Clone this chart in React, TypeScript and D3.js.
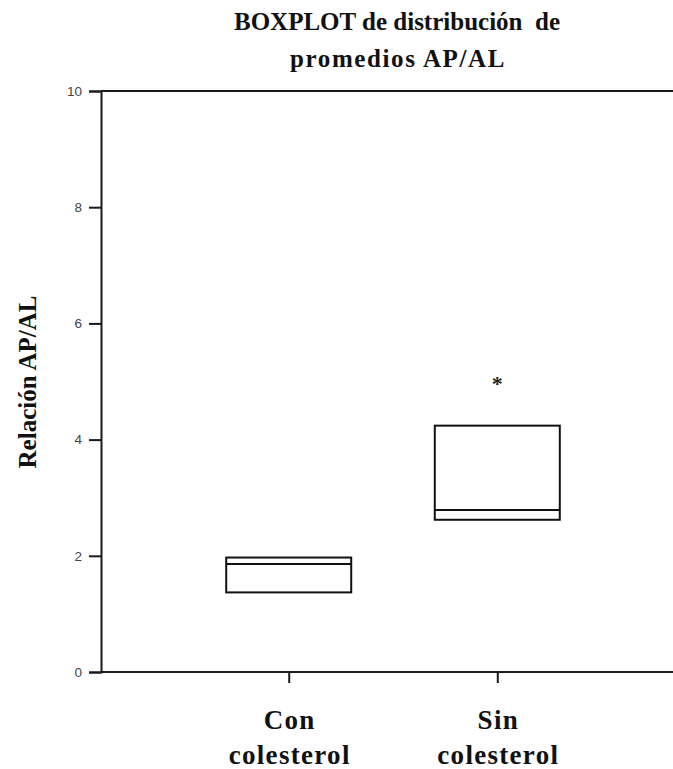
import React, { useEffect, useRef } from 'react';
import * as d3 from 'd3';

// Box statistics
const categories = ['Con colesterol', 'Sin colesterol'];
const q1Values = [1.37, 2.62];
const medianValues = [1.86, 2.79];
const q3Values = [1.97, 4.24];
const outliers = [[], [5.03]];
const yTicks = [0, 2, 4, 6, 8, 10];

const W = 673, H = 769;
const margin = { top: 91, left: 101, bottom: 97 };

export default function App() {
  const ref = useRef<SVGSVGElement>(null);

  useEffect(() => {
    const svg = d3.select(ref.current);
    svg.selectAll('*').remove();

    const y = d3.scaleLinear().domain([0, 10]).range([H - margin.bottom, margin.top]);
    const x = d3.scalePoint().domain(categories).range([margin.left, 685]).padding(0.9);
    const boxW = 125;

    // frame (top + bottom, left comes from the axis)
    const frame = svg.append('g').attr('stroke', '#1a1a1a').attr('stroke-width', 2).attr('fill', 'none');
    frame.append('line').attr('x1', margin.left).attr('x2', W + 20).attr('y1', y(10)).attr('y2', y(10));
    frame.append('line').attr('x1', margin.left).attr('x2', W + 20).attr('y1', y(0)).attr('y2', y(0));

    svg.append('g')
      .attr('transform', `translate(${margin.left},0)`)
      .call(d3.axisLeft(y).tickValues(yTicks).tickSize(12).tickPadding(7).tickFormat(d3.format('d')))
      .call(g => g.select('.domain').attr('stroke', '#1a1a1a').attr('stroke-width', 2))
      .call(g => g.selectAll('.tick line').attr('stroke', '#1a1a1a').attr('stroke-width', 2))
      .call(g => g.selectAll('.tick text')
        .attr('font-family', '"Liberation Sans", Arial, sans-serif')
        .attr('font-size', 13.5).attr('fill', '#444'));

    svg.append('g')
      .attr('transform', `translate(0,${y(0)})`)
      .call(d3.axisBottom(x).tickSize(11).tickFormat(() => ''))
      .call(g => g.select('.domain').remove())
      .call(g => g.selectAll('.tick line').attr('stroke', '#1a1a1a').attr('stroke-width', 2));

    // category labels, two lines each
    const lab = svg.append('g')
      .attr('font-family', '"Liberation Serif", "Times New Roman", serif')
      .attr('font-weight', 'bold').attr('font-size', 27)
      .attr('letter-spacing', 1.3).attr('fill', '#111').attr('text-anchor', 'middle');
    categories.forEach(c => {
      const words = c.split(' ');
      const t = lab.append('text').attr('x', (x(c) as number) + 1);
      t.append('tspan').attr('x', (x(c) as number) + 1).attr('y', 729).text(words[0]);
      t.append('tspan').attr('x', (x(c) as number) + 1).attr('y', 764).text(words[1]);
    });

    // boxes
    const boxes = svg.append('g').attr('stroke', '#111').attr('stroke-width', 2).attr('fill', 'none');
    categories.forEach((c, i) => {
      const cx = x(c) as number;
      boxes.append('rect')
        .attr('x', cx - boxW / 2).attr('width', boxW)
        .attr('y', y(q3Values[i])).attr('height', y(q1Values[i]) - y(q3Values[i]));
      boxes.append('line')
        .attr('x1', cx - boxW / 2).attr('x2', cx + boxW / 2)
        .attr('y1', y(medianValues[i])).attr('y2', y(medianValues[i]));
      outliers[i].forEach(v => {
        svg.append('text')
          .attr('x', cx).attr('y', y(v) + 11)
          .attr('text-anchor', 'middle')
          .attr('font-family', '"Liberation Serif", serif')
          .attr('font-weight', 'bold').attr('font-size', 22).attr('fill', '#222')
          .text('*');
      });
    });

    // titles
    const serif = '"Liberation Serif", "Times New Roman", serif';
    svg.append('text')
      .attr('x', 397).attr('y', 30).attr('text-anchor', 'middle')
      .attr('font-family', serif).attr('font-weight', 'bold').attr('font-size', 25).attr('fill', '#111')
      .attr('xml:space', 'preserve')
      .text('BOXPLOT de distribución  de');
    svg.append('text')
      .attr('x', 398).attr('y', 67).attr('text-anchor', 'middle')
      .attr('font-family', serif).attr('font-weight', 'bold').attr('font-size', 25).attr('fill', '#111')
      .attr('letter-spacing', 1.6)
      .text('promedios AP/AL');

    svg.append('text')
      .attr('transform', `translate(36,382) rotate(-90)`)
      .attr('text-anchor', 'middle')
      .attr('font-family', serif).attr('font-weight', 'bold').attr('font-size', 25).attr('fill', '#111')
      .text('Relación AP/AL');
  }, []);

  return (
    <div style={{ position: 'absolute', left: 0, top: 0 }}>
      <svg ref={ref} width={W} height={H} style={{ display: 'block', background: '#fff' }} />
    </div>
  );
}
